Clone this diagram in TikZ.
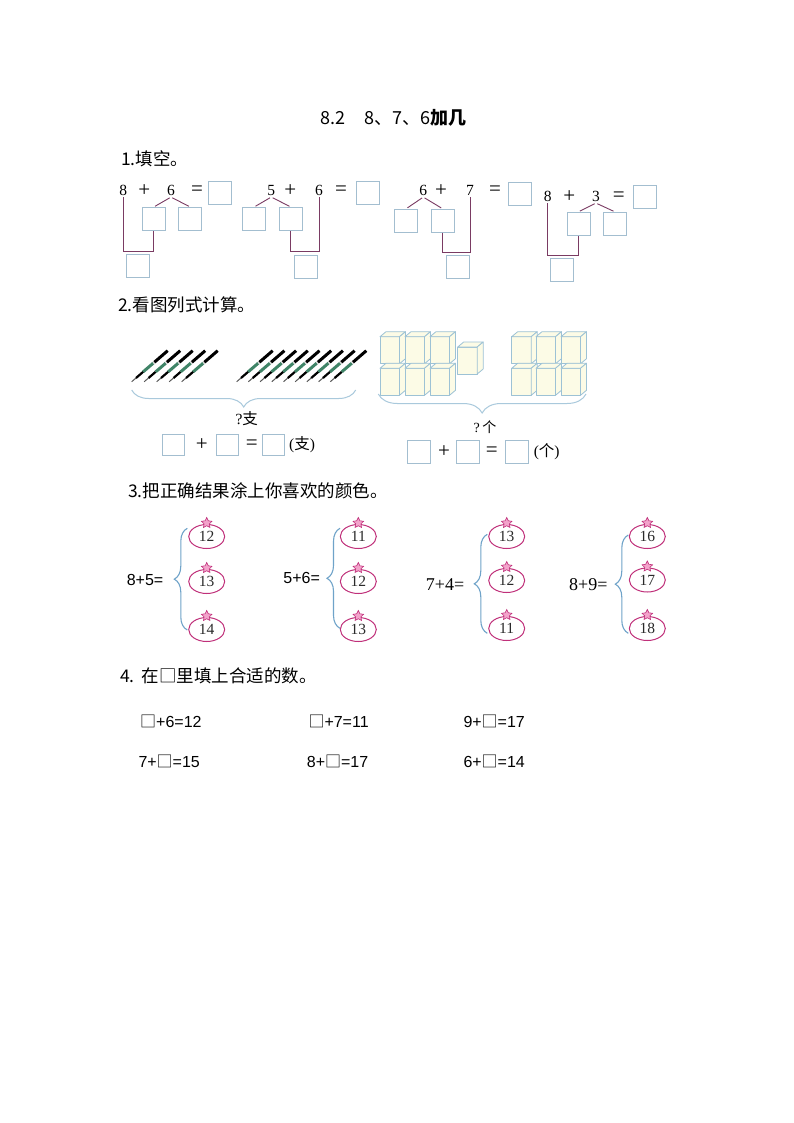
\documentclass[tikz,border=0pt]{standalone}
\usepackage{fontspec}
\usetikzlibrary{shapes.geometric,decorations.pathreplacing}
\newfontfamily\cjk{Noto Sans CJK SC}
\newfontfamily\sansnum{Liberation Sans}
\newfontfamily\serifnum{Liberation Serif}
\definecolor{boxblue}{HTML}{A3BED0}
\definecolor{linkpurple}{HTML}{7A3B63}
\definecolor{bracelight}{HTML}{A9C9DC}
\definecolor{bracedark}{HTML}{6FA3C9}
\definecolor{tomatoline}{HTML}{C0307A}
\definecolor{stemfill}{HTML}{F3A3CB}
\definecolor{cubeline}{HTML}{9DC2D5}
\definecolor{cubefill}{HTML}{FCFBE6}
\definecolor{pengreen}{HTML}{3F8467}
\definecolor{numgray}{HTML}{2A2A2A}
\tikzstyle{head} = [anchor=west, inner sep=0pt, font={\cjk\fontsize{17.5}{17.5}\selectfont}]
\tikzstyle{num} = [inner sep=1pt, font={\serifnum\fontsize{15.5}{15.5}\selectfont}]
\tikzstyle{op} = [inner sep=1pt, font={\serifnum\fontsize{21}{21}\selectfont}]
\tikzstyle{blank} = [draw=boxblue, line width=1pt, minimum size=23pt, inner sep=0pt]
\tikzstyle{small blank} = [blank, minimum width=22pt, minimum height=21pt]
\tikzstyle{split} = [draw=linkpurple, line width=0.9pt, shorten <=1.5pt, shorten >=1.5pt]
\tikzstyle{link} = [draw=linkpurple, line width=1pt]
\tikzstyle{pbrace} = [draw=bracelight, line width=1pt, decorate, decoration={brace,amplitude=17pt}]
\tikzstyle{tbrace} = [draw=bracedark, line width=1.1pt, decorate, decoration={brace,amplitude=13pt}]
\tikzstyle{tomato} = [draw=tomatoline, line width=1pt, ellipse, minimum width=36pt, minimum height=24pt, inner sep=0pt, text=numgray, font={\serifnum\fontsize{15.5}{15.5}\selectfont}]
\tikzstyle{stem} = [draw=tomatoline, fill=stemfill, line width=0.6pt, star, star points=5, star point ratio=2, minimum size=11pt, inner sep=0pt]
\tikzstyle{sum} = [inner sep=0pt, font={\sansnum\fontsize{16}{16}\selectfont}]
\tikzstyle{sumserif} = [inner sep=0pt, font={\serifnum\fontsize{18}{18}\selectfont}]
\tikzstyle{fill in} = [anchor=west, inner sep=0pt, font={\sansnum\fontsize{16}{16}\selectfont}]
\tikzstyle{cubeface} = [draw=cubeline, fill=cubefill, line width=0.8pt, line join=round]
\tikzset{
  pen/.pic={
    \draw[line width=1pt, gray!70!black] (0,0) -- (4.3,-3.7);
    \draw[line width=2.2pt, black] (4.3,-3.7) -- (11.5,-9.9);
    \draw[line width=3pt, pengreen] (11.5,-9.9) -- (21.6,-18.6);
    \draw[line width=3pt, gray!30] (21.6,-18.6) -- (22.7,-19.5);
    \draw[line width=3pt, black] (22.7,-19.5) -- (36,-31);
  },
  cube/.pic={
    \draw[cubeface] (0,0) rectangle (19.5,27);
    \draw[cubeface] (0,0) -- (6,-5) -- (25.5,-5) -- (19.5,0) -- cycle;
    \draw[cubeface] (19.5,0) -- (25.5,-5) -- (25.5,22) -- (19.5,27) -- cycle;
  }
}
\begin{document}
\begin{tikzpicture}[x=1pt,y=-1pt]
    \path[fill=white,use as bounding box] (0,0) rectangle (794,1123);
    % title
    \node[inner sep=0pt, anchor=west, font={\cjk\fontsize{18}{18}\selectfont}] (title) at (320,118) {8.2\hspace{1.1em}8、7、6{\bfseries 加几}};
    % 1
    \node[head] (h1) at (121,159) {1.填空。};
    \node[num] (a1) at (123.3,190.7) {8};
    \node[op] (p1) at (144.3,190.7) {+};
    \node[num] (b1) at (171,190.7) {6};
    \node[op] (e1) at (197,190.7) {=};
    \node[blank] (r1) at (220.2,192.8) {};
    \node[blank] (l1) at (153.8,219) {};
    \node[blank] (m1) at (190.2,219) {};
    \node[blank] (s1) at (137.5,265.5) {};
    \coordinate (k1) at (153.8,251.7);
    \draw[split] (b1.south) -- (l1.north);
    \draw[split] (b1.south) -- (m1.north);
    \draw[link] (a1.south) |- (k1) -- (l1.south);

    \node[num] (a2) at (271.3,190.7) {5};
    \node[op] (p2) at (290.3,190.7) {+};
    \node[num] (b2) at (319,190.7) {6};
    \node[op] (e2) at (341,190.7) {=};
    \node[blank] (r2) at (368,193) {};
    \node[blank] (l2) at (254.2,219) {};
    \node[blank] (m2) at (290.8,219) {};
    \node[blank] (s2) at (305.8,266.5) {};
    \coordinate (k2) at (319,251.7);
    \draw[split] (a2.south) -- (l2.north);
    \draw[split] (a2.south) -- (m2.north);
    \draw[link] (m2.south) |- (k2) -- (b2.south);

    \node[num] (a3) at (423.3,190.7) {6};
    \node[op] (p3) at (441,190.7) {+};
    \node[num] (b3) at (470,190.7) {7};
    \node[op] (e3) at (495,190.7) {=};
    \node[blank] (r3) at (520,193.8) {};
    \node[blank] (l3) at (406.2,220.7) {};
    \node[blank] (m3) at (442.5,220.7) {};
    \node[blank] (s3) at (458,267) {};
    \coordinate (k3) at (470,252.3);
    \draw[split] (a3.south) -- (l3.north);
    \draw[split] (a3.south) -- (m3.north);
    \draw[link] (m3.south) |- (k3) -- (b3.south);

    \node[num] (a4) at (547.7,196.7) {8};
    \node[op] (p4) at (569.3,196.7) {+};
    \node[num] (b4) at (596,196.7) {3};
    \node[op] (e4) at (618.7,196.7) {=};
    \node[blank] (r4) at (644.7,197.2) {};
    \node[blank] (l4) at (578.5,223.8) {};
    \node[blank] (m4) at (614.8,223.8) {};
    \node[blank] (s4) at (561.8,269.8) {};
    \coordinate (k4) at (578.5,255);
    \draw[split] (b4.south) -- (l4.north);
    \draw[split] (b4.south) -- (m4.north);
    \draw[link] (a4.south) |- (k4) -- (l4.south);
    % 2
    \node[head] (h2) at (118,305) {2.看图列式计算。};
    \pic at (131.7,381.7) {pen};
    \pic at (144.2,381.7) {pen};
    \pic at (156.7,381.7) {pen};
    \pic at (169.2,381.7) {pen};
    \pic at (181.7,381.7) {pen};
    \pic at (236.7,381.7) {pen};
    \pic at (248.4,381.7) {pen};
    \pic at (260.1,381.7) {pen};
    \pic at (271.8,381.7) {pen};
    \pic at (283.5,381.7) {pen};
    \pic at (295.2,381.7) {pen};
    \pic at (306.9,381.7) {pen};
    \pic at (318.6,381.7) {pen};
    \pic at (330.3,381.7) {pen};
    \draw[pbrace] (355.7,390) -- (131.7,390);
    \node[num] (xq) at (246.7,419) {?{\cjk 支}};
    \node[small blank] (x1) at (173,445) {};
    \node[op] (xp) at (201.7,445) {+};
    \node[small blank] (x2) at (227.5,445) {};
    \node[op] (xe) at (251.7,445) {=};
    \node[small blank] (x3) at (273.8,445) {};
    \node[num] (xu) at (302,445) {({\cjk 支})};

    \pic at (380,336.7) {cube};
    \pic at (405,336.7) {cube};
    \pic at (430,336.7) {cube};
    \pic at (380,368.3) {cube};
    \pic at (405,368.3) {cube};
    \pic at (430,368.3) {cube};
    \pic at (457.7,347) {cube};
    \pic at (511.7,336.7) {cube};
    \pic at (536,336.7) {cube};
    \pic at (561,336.7) {cube};
    \pic at (511.7,368.3) {cube};
    \pic at (536,368.3) {cube};
    \pic at (561,368.3) {cube};
    \draw[pbrace,decoration={brace,amplitude=19pt}] (586,394) -- (378.3,394);
    \node[num,font={\serifnum\fontsize{14}{14}\selectfont}] (yq) at (485,426.7) {?\,{\cjk 个}};
    \node[blank] (y1) at (418.8,452) {};
    \node[op] (yp) at (444,452) {+};
    \node[blank] (y2) at (468,452) {};
    \node[op] (ye) at (491.7,452) {=};
    \node[blank] (y3) at (517,452) {};
    \node[num] (yu) at (546.7,452) {({\cjk 个})};
    % 3
    \node[head] (h3) at (128,491) {3.把正确结果涂上你喜欢的颜色。};
    \node[sum] (g1) at (145,580) {8+5=};
    \node[tomato] (t11) at (206.7,536.5) {12};
    \node[tomato] (t12) at (206.7,581.5) {13};
    \node[tomato] (t13) at (206.7,629.5) {14};
    \node[stem] (st11) at ([yshift=1pt]t11.north) {};
    \node[stem] (st12) at ([yshift=1pt]t12.north) {};
    \node[stem] (st13) at ([yshift=1pt]t13.north) {};
    \draw[tbrace] (187.3,630) -- (187.3,528.3);

    \node[sum] (g2) at (301.7,578.3) {5+6=};
    \node[tomato] (t21) at (358.3,536.5) {11};
    \node[tomato] (t22) at (358.3,581.5) {12};
    \node[tomato] (t23) at (358.3,629.5) {13};
    \node[stem] (st21) at ([yshift=1pt]t21.north) {};
    \node[stem] (st22) at ([yshift=1pt]t22.north) {};
    \node[stem] (st23) at ([yshift=1pt]t23.north) {};
    \draw[tbrace] (340,628.3) -- (340,528.3);

    \node[sumserif] (g3) at (445,585) {7+4=};
    \node[tomato] (t31) at (506.7,536.5) {13};
    \node[tomato] (t32) at (506.7,580.5) {12};
    \node[tomato] (t33) at (506.7,628.5) {11};
    \node[stem] (st31) at ([yshift=1pt]t31.north) {};
    \node[stem] (st32) at ([yshift=1pt]t32.north) {};
    \node[stem] (st33) at ([yshift=1pt]t33.north) {};
    \draw[tbrace] (487.3,633.3) -- (487.3,534.3);

    \node[sumserif] (g4) at (588.3,585) {8+9=};
    \node[tomato] (t41) at (647.3,536.5) {16};
    \node[tomato] (t42) at (647.3,580) {17};
    \node[tomato] (t43) at (647.3,628.5) {18};
    \node[stem] (st41) at ([yshift=1pt]t41.north) {};
    \node[stem] (st42) at ([yshift=1pt]t42.north) {};
    \node[stem] (st43) at ([yshift=1pt]t43.north) {};
    \draw[tbrace] (628.3,633.3) -- (628.3,535);
    % 4
    \node[head] (h4) at (120,676) {4.\hspace{0.4em}在□里填上合适的数。};
    \node[fill in] (q1) at (140,721.7) {{\cjk □}+6=12};
    \node[fill in] (q2) at (308.3,721.7) {{\cjk □}+7=11};
    \node[fill in] (q3) at (463.3,721.7) {9+{\cjk □}=17};
    \node[fill in] (q4) at (138.3,761.7) {7+{\cjk □}=15};
    \node[fill in] (q5) at (306.7,761.7) {8+{\cjk □}=17};
    \node[fill in] (q6) at (463.3,761.7) {6+{\cjk □}=14};
\end{tikzpicture}
\end{document}
